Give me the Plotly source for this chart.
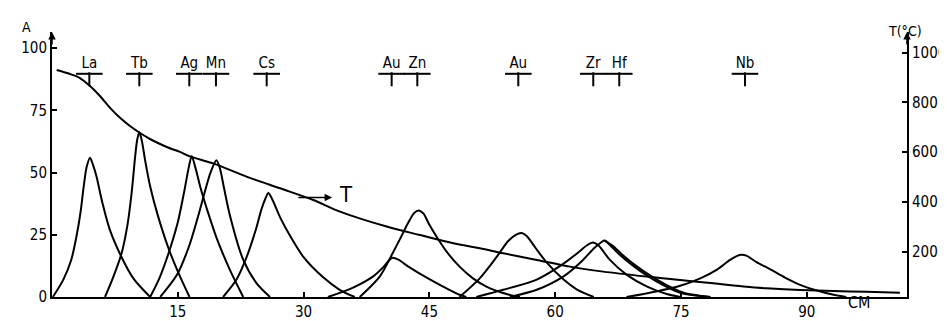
import plotly.graph_objects as go

# ---- data ----
la_x = [0.1, 1.35, 2.3, 2.9, 3.4, 3.8, 4.15, 4.53, 4.9, 5.3, 6.0, 6.9, 8.3, 9.7, 11.7]
la_y = [0, 7, 15, 24, 34, 45, 52.5, 56, 53, 48.5, 38, 27, 16, 7.5, 0]

tb_x = [6.32, 7.3, 8.3, 9.0, 9.5, 9.9, 10.15, 10.41, 10.7, 11.1, 11.7, 12.6, 13.9, 15.1, 16.4]
tb_y = [0, 8, 17.6, 29, 42, 56, 63, 66.2, 63, 55, 44.5, 33, 19.5, 9.5, 0]

ag_x = [11.7, 12.8, 13.9, 15.0, 15.8, 16.3, 16.66, 17.1, 17.7, 18.6, 19.6, 21.2, 22.8]
ag_y = [0, 7.5, 17.6, 30, 43, 52, 56.6, 52, 44, 34, 24, 11, 0]

mn_x = [12.9, 14.9, 16.3, 17.3, 18.2, 18.9, 19.6, 20.0, 20.5, 21.2, 22.8, 24.4, 26.0]
mn_y = [0, 8.9, 20, 31, 42, 50, 55, 52, 44, 33, 15, 5.5, 0]

cs_x = [20.4, 22.0, 23.2, 24.3, 25.0, 25.5, 25.8, 26.3, 27.2, 28.4, 30.0, 32.3, 34.3, 36.1]
cs_y = [0, 7, 16, 27, 35.5, 40, 41.8, 39, 32, 24.5, 16, 8, 2.9, 0]

au1_x = [32.9, 35.9, 38.3, 39.5, 40.2, 40.6, 41.3, 42.5, 43.9, 46.3, 48.6, 49.4]
au1_y = [0, 3.8, 8.3, 12, 14.8, 15.8, 15, 12.2, 9.3, 4.8, 0.9, 0]

zn_x = [36.7, 39.1, 40.6, 41.6, 42.5, 43.2, 43.7, 44.3, 45.0, 45.9, 47.1, 48.6, 50.2, 51.8, 54.2, 55.8]
zn_y = [0, 8.3, 17.5, 24, 30, 33.8, 34.8, 33.5, 29, 24, 18, 12.2, 7.5, 4.2, 1.2, 0]

au2_x = [48.6, 51.0, 53.0, 54.4, 55.3, 56.0, 56.6, 57.6, 59.0, 61.0, 62.6, 64.6]
au2_y = [0, 7.5, 16, 22.5, 25, 25.7, 24.5, 20, 13.8, 7, 3, 0]

zr_x = [50.6, 53.8, 57.8, 60.6, 62.6, 63.8, 64.5, 65.2, 66.5, 68.5, 70.9, 73.3, 74.9]
zr_y = [0, 2.9, 7, 12.5, 17.5, 20.8, 21.9, 20.6, 15, 9, 4.3, 1.2, 0]

hf_x = [54.6, 57.8, 61.0, 63.2, 64.7, 65.5, 65.9, 66.5, 67.6, 69.2, 71.0, 73.0, 75.0, 78.5]
hf_y = [0, 2.9, 8.3, 14.5, 19.8, 22, 22.7, 21, 17.3, 12.8, 8.5, 4.6, 1.6, 0]

hf2_x = [65.9, 66.9, 68.0, 69.6, 71.4, 73.4, 75.4, 78.5]
hf2_y = [22.7, 20.5, 17, 12.6, 8.5, 4.6, 1.6, 0]

nb_x = [68.5, 71.0, 74.9, 77.3, 79.3, 80.8, 81.7, 82.2, 82.8, 84.0, 85.6, 87.4, 89.2, 91.2, 93.2, 94.7]
nb_y = [0, 1.5, 4.5, 7.5, 11, 14.8, 16.5, 17, 16.6, 14, 11.2, 7.8, 4.9, 2.6, 0.9, 0]

t_x = [0.56, 2.15, 3.34, 4.53, 5.72, 6.92, 8.11, 9.30, 10.41, 11.68, 13.68, 15.26, 16.45,
       19.2, 23.2, 27.19, 31.16, 34.34, 39.9, 43.88, 47.85, 51.03, 53.8, 57.8, 61.76,
       65.73, 70.9, 74.9, 78.85, 82.83, 85.2, 89.2, 93.15, 97.14, 101.1]
t_y = [930, 914, 898, 866, 826, 778, 738, 705, 679, 653, 621, 601, 583,
       555, 502, 455, 408, 361, 301, 267, 234, 214, 194, 167, 140,
       120, 100, 86, 73, 59, 53, 46, 42, 39, 35]

label_names = ["La", "Tb", "Ag", "Mn", "Cs", "Au", "Zn", "Au", "Zr", "Hf", "Nb"]
label_x = [4.45, 10.41, 16.37, 19.55, 25.6, 40.5, 43.56, 55.6, 64.54, 67.64, 82.63]

x_ticks = [15, 30, 45, 60, 75, 90]
a_ticks = [0, 25, 50, 75, 100]
t_ticks = [200, 400, 600, 800, 1000]

# ---- figure ----
FONT = "DejaVu Sans Condensed, DejaVu Sans"
line = dict(color="black", width=2, shape="spline", smoothing=0.8)
fig = go.Figure()
for px_, py_ in [(la_x, la_y), (tb_x, tb_y), (ag_x, ag_y), (mn_x, mn_y), (cs_x, cs_y),
                 (au1_x, au1_y), (zn_x, zn_y), (au2_x, au2_y), (zr_x, zr_y),
                 (hf_x, hf_y), (hf2_x, hf2_y), (nb_x, nb_y)]:
    fig.add_trace(go.Scatter(x=px_, y=py_, mode="lines", line=line,
                             hoverinfo="skip", showlegend=False))

fig.add_trace(go.Scatter(x=t_x, y=t_y, mode="lines", yaxis="y2", line=line,
                         hoverinfo="skip", showlegend=False))

# element markers
fig.add_trace(go.Scatter(x=label_x, y=[93.6] * len(label_x), mode="text",
                         text=label_names, textfont=dict(family=FONT, size=15, color="black"),
                         hoverinfo="skip", showlegend=False, cliponaxis=False))
fig.add_trace(go.Scatter(x=label_x, y=[89.7] * len(label_x), mode="markers",
                         marker=dict(symbol="line-ew", size=19,
                                     line=dict(color="black", width=2)),
                         hoverinfo="skip", showlegend=False))
fig.add_trace(go.Scatter(x=label_x, y=[87.5] * len(label_x), mode="markers",
                         marker=dict(symbol="line-ns", size=10,
                                     line=dict(color="black", width=2)),
                         hoverinfo="skip", showlegend=False))

axis_common = dict(ticks="inside", ticklen=5, tickwidth=1.5, tickcolor="black",
                   showline=True, linecolor="black", linewidth=2, showgrid=False,
                   zeroline=False, automargin=False,
                   tickfont=dict(family=FONT, size=15, color="black"))

# the page body has an 8px margin, so the figure is 8px smaller and shifted
fig.update_layout(
    width=939, height=313,
    margin=dict(l=44, r=40, t=24, b=24, autoexpand=False),
    paper_bgcolor="white", plot_bgcolor="white",
    font=dict(family=FONT, size=14, color="black"),
    xaxis=dict(range=[0, 101.95], tickvals=x_ticks, **axis_common),
    yaxis=dict(range=[0, 106.5], tickvals=a_ticks, **axis_common),
    yaxis2=dict(range=[18, 1083], tickvals=t_ticks, overlaying="y", side="right",
                **axis_common),
    annotations=[
        dict(xref="paper", yref="paper", x=0, y=1.0, ax=0, ay=14, showarrow=True,
             arrowhead=2, arrowsize=1, arrowwidth=1.5, arrowcolor="black", text=""),
        dict(xref="paper", yref="paper", x=1, y=1.0, ax=0, ay=14, showarrow=True,
             arrowhead=2, arrowsize=1, arrowwidth=1.5, arrowcolor="black", text=""),
        dict(xref="x", yref="y", x=33.4, y=40, axref="x", ayref="y", ax=29.2, ay=40,
             showarrow=True, arrowhead=2, arrowsize=1, arrowwidth=1.5,
             arrowcolor="black", text=""),
        dict(xref="x", yref="y", x=35.1, y=41, text="T", showarrow=False,
             font=dict(family=FONT, size=22)),
        dict(xref="paper", yref="paper", x=-0.0374, y=1.055, text="A", showarrow=False,
             font=dict(family=FONT, size=14)),
        dict(xref="paper", yref="paper", x=1.02, y=1.04, text="T(°C)", showarrow=False,
             font=dict(family=FONT, size=14)),
        dict(xref="paper", yref="paper", x=0.959, y=-0.066, text="CM", showarrow=False,
             font=dict(family=FONT, size=16)),
    ],
)

fig.write_html("out.html")
